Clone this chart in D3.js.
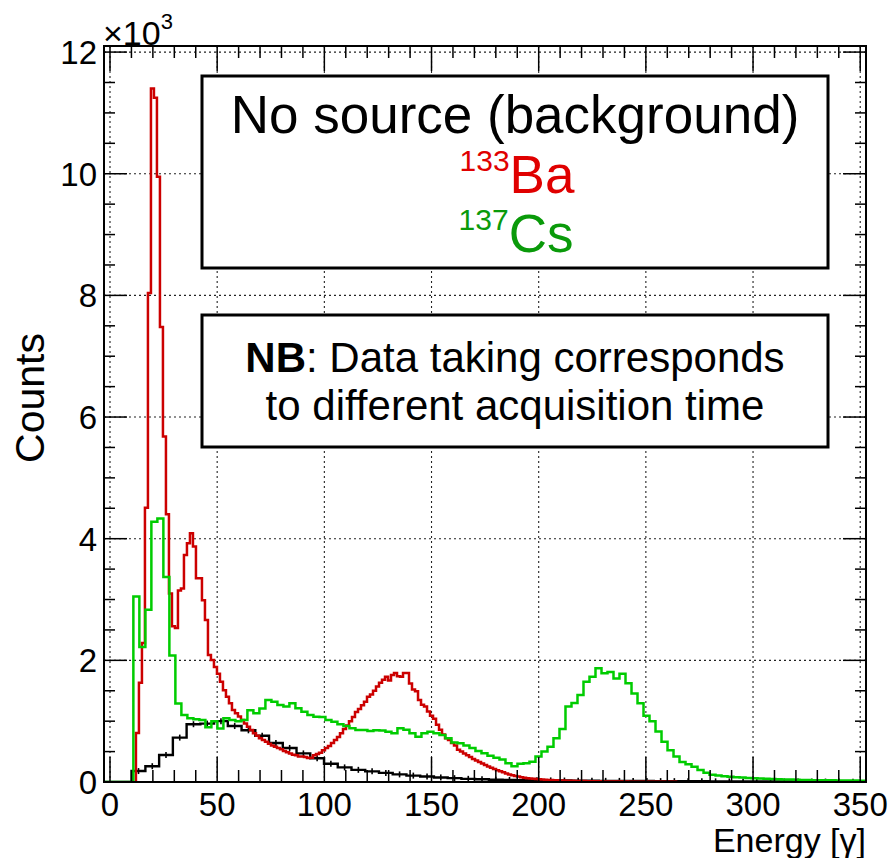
<!DOCTYPE html>
<html>
<head>
<meta charset="utf-8">
<script src="https://cdn.jsdelivr.net/npm/d3@7"></script>
<style>
  body { margin: 0; background: #fff; }
  svg { display: block; font-family: "Liberation Sans", Arial, sans-serif; }
</style>
</head>
<body>
<svg id="chart" width="892" height="858"></svg>
<script>
// histogram bins: first lower edge, bin width, counts per bin
const redStart = 12.1, redWidth = 1.4;
const redCounts = [
  805, 1630, 2285, 4510, 8040, 11400, 11250, 9950, 7480, 5680,
  4400, 3100, 2560, 2530, 3150, 3180, 3730, 3925, 4090, 3870,
  3350, 3350, 2990, 2664, 2088, 2005, 1890, 1780, 1650, 1510,
  1403, 1294, 1184, 1130, 1075, 1020, 960, 910, 855, 800,
  760, 720, 690, 660, 630, 600, 580, 560, 540, 510,
  490, 470, 450, 440, 420, 420, 410, 395, 400, 440,
  460, 480, 520, 560, 590, 640, 690, 740, 800, 870,
  930, 1000, 1070, 1150, 1200, 1260, 1320, 1400, 1440, 1500,
  1570, 1630, 1680, 1730, 1670, 1760, 1790, 1740, 1730, 1790,
  1790, 1620, 1520, 1490, 1350, 1270, 1240, 1160, 1090, 1040,
  940, 860, 780, 720, 690, 640, 600, 530, 500, 470,
  440, 410, 380, 355, 330, 305, 280, 255, 235, 215,
  195, 175, 160, 140, 125, 110, 100, 90, 80, 70,
  62, 58, 53, 48, 44, 40, 37, 34, 31, 29,
  27, 25, 23, 21, 20, 19, 18, 17, 16, 15,
  14, 13, 12, 11, 11, 10, 10, 9, 9, 8,
  8, 7, 7, 7, 6, 6, 6, 5, 5, 5,
  5, 4, 4, 4, 4, 3, 3, 3, 3, 3
];

const greenStart = 10.9, greenWidth = 2.8;
const greenCounts = [
  3050, 2220, 2830, 4280, 4330, 3370, 2080, 1290, 1100, 1050,
  1030, 1020, 900, 1000, 880, 1050, 1020, 1000, 1020, 1180,
  1130, 1210, 1348, 1320, 1266, 1240, 1293, 1211, 1156, 1100,
  1074, 1070, 1019, 992, 950, 921, 882, 855, 855, 840,
  850, 845, 827, 800, 882, 860, 800, 745, 800, 827,
  800, 773, 718, 650, 636, 600, 560, 510, 471, 430,
  400, 370, 310, 260, 300, 310, 334, 420, 500, 581,
  720, 870, 1240, 1300, 1430, 1650, 1730, 1869, 1786, 1810,
  1700, 1780, 1622, 1457, 1293, 1090, 1000, 830, 663, 520,
  420, 330, 290, 250, 197, 153, 120, 105, 95, 88,
  80, 72, 65, 60, 56, 52, 48, 45, 42, 40,
  36, 33, 32, 30, 29, 28, 27, 26, 25, 24,
  23, 22
];

const blackStart = 10.1, blackWidth = 6.41;
const blackCounts = [
  180, 260, 444, 730, 950, 960, 1000, 920, 850, 760,
  640, 560, 470, 390, 300, 240, 200, 175, 150, 125,
  105, 90, 75, 63, 52, 45, 38, 34, 31, 28,
  26, 24, 22, 20, 19, 18, 17, 16, 15, 14,
  13, 12, 11, 10, 10, 9, 9, 8, 8, 7,
  7, 6, 6, 6
];

const xMajor = [0, 50, 100, 150, 200, 250, 300, 350];
const xMinor = d3.range(0, 351, 10);
const yMajor = [0, 2000, 4000, 6000, 8000, 10000, 12000];
const yMinor = d3.range(0, 12001, 500);

const xTitle = "Energy [\u03b3]";
const yTitle = "Counts";
const legendTitle = "No source (background)";
const legendNote = ["Data taking corresponds", "to different acquisition time"];

// layout
const frame = { left: 104, right: 866, top: 46, bottom: 782 };
const svg = d3.select("#chart");

const x = d3.scaleLinear().domain([-2.8, 352.7]).range([frame.left, frame.right]);
const y = d3.scaleLinear().domain([0, 12100]).range([frame.bottom, frame.top]);

svg.append("rect").attr("width", 892).attr("height", 858).attr("fill", "#fff");

svg.append("defs").append("clipPath").attr("id", "plot-clip")
  .append("rect")
  .attr("x", frame.left).attr("y", frame.top - 2)
  .attr("width", frame.right - frame.left).attr("height", frame.bottom - frame.top + 2);

// grid
const grid = svg.append("g").attr("stroke", "#222").attr("stroke-width", 1.1)
  .attr("stroke-dasharray", "2,3");
grid.selectAll(".gx").data(xMajor).join("line")
  .attr("x1", d => x(d)).attr("x2", d => x(d))
  .attr("y1", frame.top).attr("y2", frame.bottom);
grid.selectAll(".gy").data(yMajor.slice(1)).join("line")
  .attr("x1", frame.left).attr("x2", frame.right)
  .attr("y1", d => y(d)).attr("y2", d => y(d));

// histograms
function histPoints(start, width, counts) {
  const pts = [[x.domain()[0], 0], [start, 0]];
  counts.forEach((c, i) => {
    pts.push([start + i * width, c]);
    pts.push([start + (i + 1) * width, c]);
  });
  pts.push([start + counts.length * width, 0]);
  return pts;
}
const line = d3.line().x(d => x(d[0])).y(d => y(d[1]));
const plot = svg.append("g").attr("clip-path", "url(#plot-clip)");

const blackPts = histPoints(blackStart, blackWidth, blackCounts);
plot.append("path").attr("d", line(blackPts))
  .attr("fill", "none").attr("stroke", "#000").attr("stroke-width", 2.4);
plot.selectAll(".err").data(blackCounts).join("line")
  .attr("x1", (d, i) => x(blackStart + (i + 0.5) * blackWidth))
  .attr("x2", (d, i) => x(blackStart + (i + 0.5) * blackWidth))
  .attr("y1", d => y(d) - 3).attr("y2", d => y(d) + 3)
  .attr("stroke", "#000").attr("stroke-width", 1.6);

const redPts = histPoints(redStart, redWidth, redCounts).slice(1);
plot.append("path").attr("d", line(redPts))
  .attr("fill", "none").attr("stroke", "#cc0000").attr("stroke-width", 2.5);

const greenPts = histPoints(greenStart, greenWidth, greenCounts);
greenPts.push([x.domain()[1], 0]);
plot.append("path").attr("d", line(greenPts))
  .attr("fill", "none").attr("stroke", "#00cc00").attr("stroke-width", 2.5);

// frame and ticks
const axes = svg.append("g").attr("stroke", "#000");
axes.append("rect")
  .attr("x", frame.left).attr("y", frame.top)
  .attr("width", frame.right - frame.left).attr("height", frame.bottom - frame.top)
  .attr("fill", "none").attr("stroke-width", 2);

const xTickLen = d => xMajor.includes(d) ? 25 : 12;
const yTickLen = d => yMajor.includes(d) ? 23 : 11;
axes.selectAll(".xtb").data(xMinor).join("line")
  .attr("x1", d => x(d)).attr("x2", d => x(d))
  .attr("y1", frame.bottom).attr("y2", d => frame.bottom - xTickLen(d))
  .attr("stroke-width", 1.5);
axes.selectAll(".xtt").data(xMinor).join("line")
  .attr("x1", d => x(d)).attr("x2", d => x(d))
  .attr("y1", frame.top).attr("y2", d => frame.top + xTickLen(d))
  .attr("stroke-width", 1.5);
axes.selectAll(".ytl").data(yMinor).join("line")
  .attr("x1", frame.left).attr("x2", d => frame.left + yTickLen(d))
  .attr("y1", d => y(d)).attr("y2", d => y(d))
  .attr("stroke-width", 1.5);
axes.selectAll(".ytr").data(yMinor).join("line")
  .attr("x1", frame.right).attr("x2", d => frame.right - yTickLen(d))
  .attr("y1", d => y(d)).attr("y2", d => y(d))
  .attr("stroke-width", 1.5);

// tick labels
svg.append("g").selectAll("text").data(xMajor).join("text")
  .attr("x", d => x(d)).attr("y", 816)
  .attr("text-anchor", "middle").attr("font-size", 33)
  .text(d => d);
svg.append("g").selectAll("text").data(yMajor).join("text")
  .attr("x", 97).attr("y", d => y(d) + 12)
  .attr("text-anchor", "end").attr("font-size", 33)
  .text(d => d / 1000);

const exp = svg.append("text").attr("x", 103).attr("y", 45).attr("font-size", 34);
exp.append("tspan").text("\u00d710");
exp.append("tspan").attr("font-size", 22).attr("dy", -16).text("3");

// axis titles
svg.append("text").attr("x", 866).attr("y", 852)
  .attr("text-anchor", "end").attr("font-size", 34).text(xTitle);
svg.append("text").attr("transform", "translate(44,398) rotate(-90)")
  .attr("text-anchor", "middle").attr("font-size", 41).text(yTitle);

// legend box
svg.append("rect").attr("x", 202).attr("y", 76).attr("width", 626).attr("height", 192)
  .attr("fill", "#fff").attr("stroke", "#000").attr("stroke-width", 3);
svg.append("text").attr("x", 515).attr("y", 133).attr("text-anchor", "middle")
  .attr("font-size", 53).text(legendTitle);
const ba = svg.append("text").attr("x", 517).attr("y", 193).attr("text-anchor", "middle")
  .attr("fill", "#e00000");
ba.append("tspan").attr("font-size", 30).attr("dy", -22).text("133");
ba.append("tspan").attr("font-size", 53).attr("dy", 22).text("Ba");
const cs = svg.append("text").attr("x", 516).attr("y", 252).attr("text-anchor", "middle")
  .attr("fill", "#0a9a0a");
cs.append("tspan").attr("font-size", 30).attr("dy", -22).text("137");
cs.append("tspan").attr("font-size", 53).attr("dy", 22).text("Cs");

// note box
svg.append("rect").attr("x", 202).attr("y", 315).attr("width", 626).attr("height", 132)
  .attr("fill", "#fff").attr("stroke", "#000").attr("stroke-width", 3);
const nb = svg.append("text").attr("x", 515).attr("y", 372).attr("text-anchor", "middle")
  .attr("font-size", 42);
nb.append("tspan").attr("font-weight", "bold").text("NB");
nb.append("tspan").text(": " + legendNote[0]);
svg.append("text").attr("x", 515).attr("y", 420).attr("text-anchor", "middle")
  .attr("font-size", 42).text(legendNote[1]);
</script>
</body>
</html>
